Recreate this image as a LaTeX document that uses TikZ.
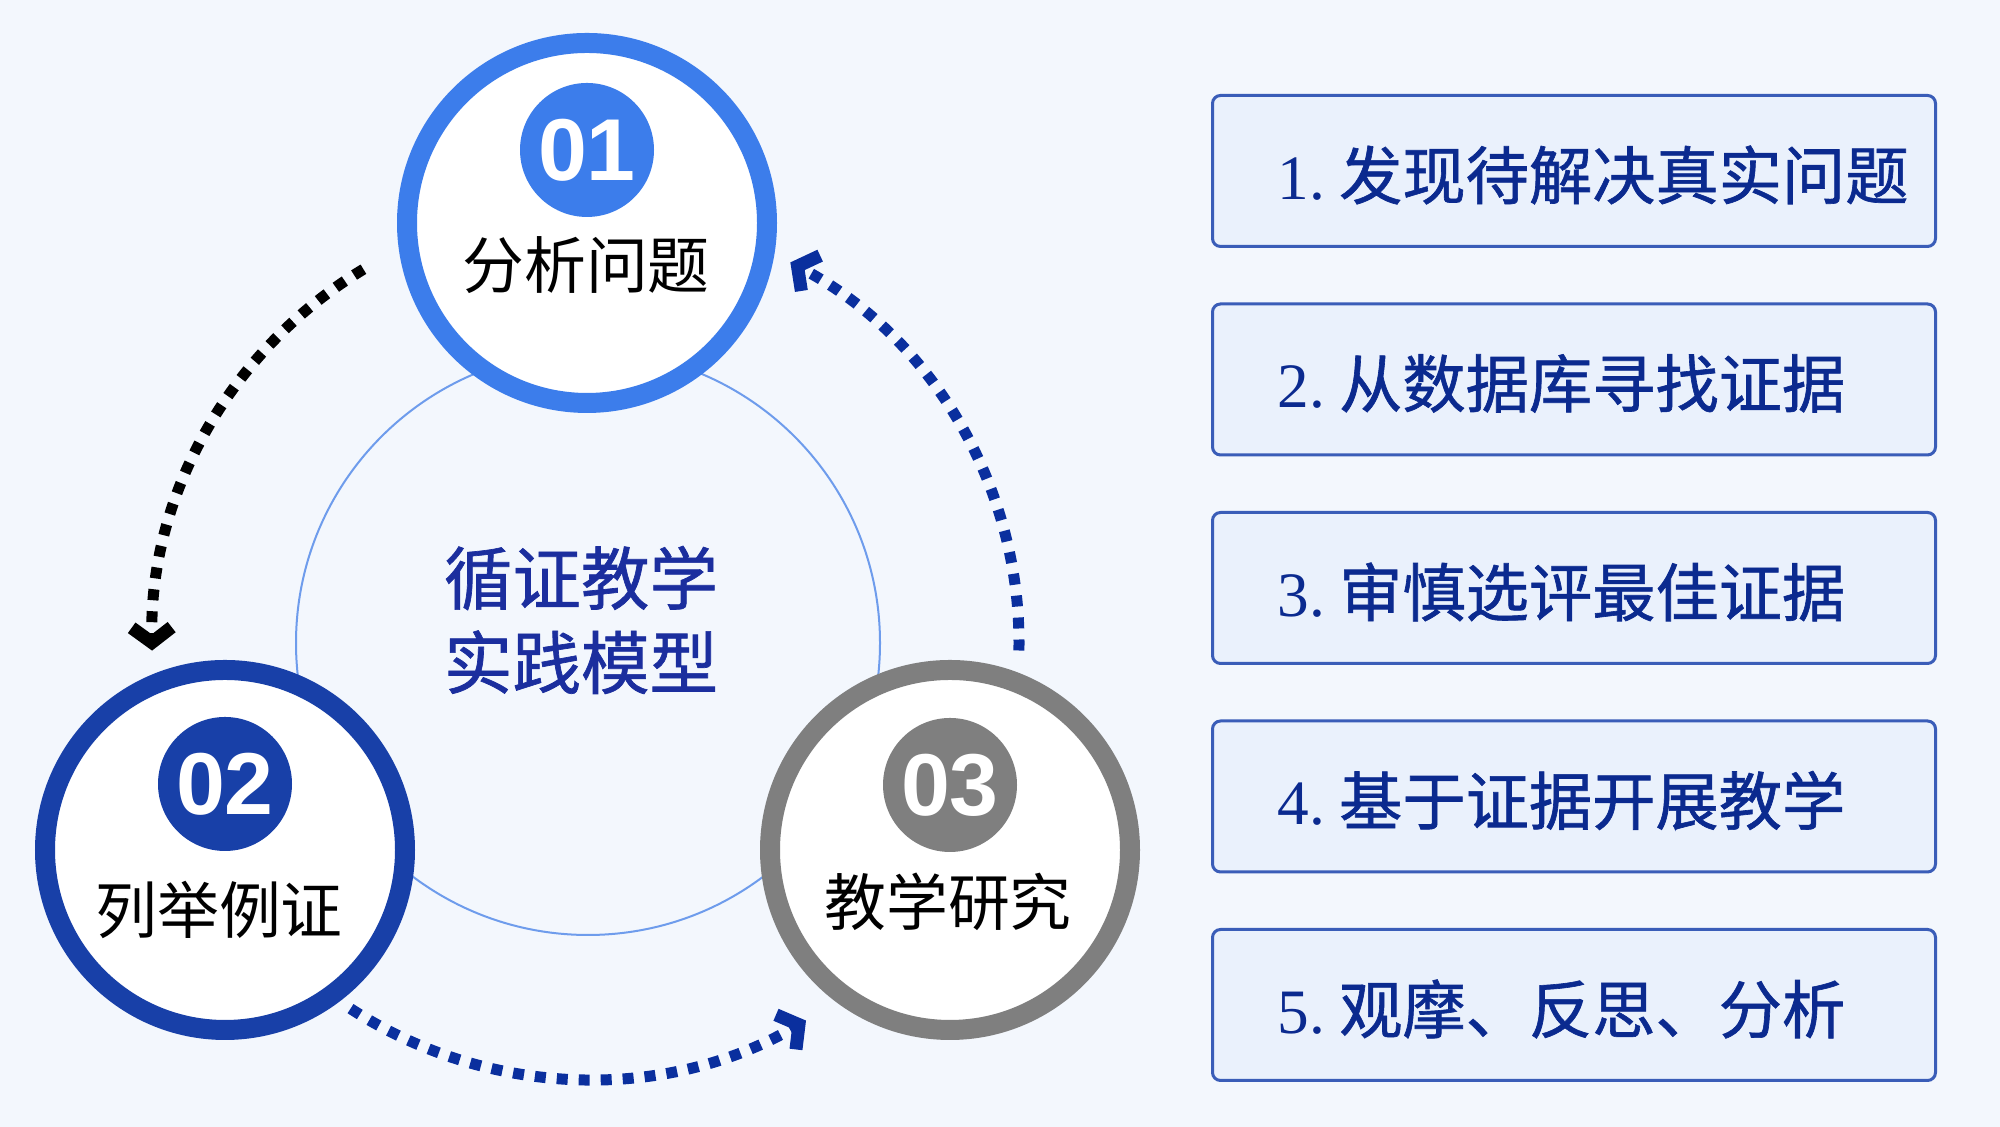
\documentclass[tikz,border=0pt]{standalone}
\usepackage{fontspec}
\setmainfont{Liberation Serif}
\newfontfamily\hei{Noto Sans CJK SC}
\newfontfamily\heim[FakeBold=1]{Noto Sans CJK SC}
\newfontfamily\numsans{Liberation Sans}
\usepackage{tikz}
\usetikzlibrary{arrows.meta}
\definecolor{pagebg}{HTML}{F3F7FD}
\definecolor{ringone}{HTML}{3C7DEB}
\definecolor{ringtwo}{HTML}{1840A8}
\definecolor{ringthree}{HTML}{7F7F7F}
\definecolor{coreline}{HTML}{6E9CEC}
\definecolor{flownavy}{HTML}{0A2F9E}
\definecolor{titlenavy}{HTML}{1B2E9E}
\definecolor{boxfill}{HTML}{EAF1FC}
\definecolor{boxline}{HTML}{3A5DB8}
\definecolor{boxtext}{HTML}{0B2A8F}

\begin{document}
\begin{tikzpicture}[
  stage/.style={circle, minimum size=3.6cm, line width=0.2cm, fill=white},
  badge/.style={circle, minimum size=1.34cm, inner sep=0pt, text=white,
    font=\numsans\bfseries\fontsize{25pt}{25pt}\selectfont},
  stagelabel/.style={font=\hei\fontsize{17.6pt}{20pt}\selectfont},
  flow/.style={line width=0.11cm, dash pattern=on 0.11cm off 0.11cm,
    -{Straight Barb[width=0.4cm,length=0.15cm,line width=0.13cm]}},
  stepbox/.style={draw=boxline, fill=boxfill, line width=0.03cm, rounded corners=0.08cm,
    minimum width=7.23cm, minimum height=1.51cm},
  steptext/.style={anchor=west, inner sep=0pt, text=boxtext,
    font=\fontsize{18pt}{22pt}\selectfont}]
  \fill[pagebg] (0,0) rectangle (20,11.27);
  \useasboundingbox (0,0) rectangle (20,11.27);

  \node[circle, draw=coreline, line width=0.02cm, minimum size=5.84cm] (core) at (5.88,4.84) {};
  \node[text=titlenavy, align=center, font=\heim\fontsize{19.5pt}{24pt}\selectfont]
    (title) at (5.81,5.07) {循证教学\\实践模型};

  \draw[flow, black] (core.center) ++(121:4.36) arc[start angle=121, end angle=181, radius=4.36];
  \draw[flow, flownavy] (core.center) ++(237:4.36) arc[start angle=237, end angle=300, radius=4.36];
  \draw[flow, flownavy] (core.center) ++(-1:4.31) arc[start angle=-1, end angle=62, radius=4.31];

  \node[stage, draw=ringone] (stage1) at (5.87,9.04) {};
  \node[badge, fill=ringone] (badge1) at (5.87,9.77) {01};
  \node[stagelabel] (label1) at (5.86,8.62) {分析问题};

  \node[stage, draw=ringtwo] (stage2) at (2.25,2.77) {};
  \node[badge, fill=ringtwo] (badge2) at (2.25,3.43) {02};
  \node[stagelabel] (label2) at (2.19,2.17) {列举例证};

  \node[stage, draw=ringthree] (stage3) at (9.50,2.77) {};
  \node[badge, fill=ringthree] (badge3) at (9.50,3.42) {03};
  \node[stagelabel] (label3) at (9.48,2.25) {教学研究};

  \foreach \n/\txt in {1/发现待解决真实问题, 2/从数据库寻找证据, 3/审慎选评最佳证据,
                       4/基于证据开展教学, 5/观摩、反思、分析}{
    \node[stepbox] (item\n) at (15.74,{9.56-(\n-1)*2.085}) {};
    \node[steptext] (text\n) at ([xshift=0.66cm,yshift=-0.04cm]item\n.west) {\n.\hspace{0.14cm}{\heim\txt}};
  }
\end{tikzpicture}
\end{document}
